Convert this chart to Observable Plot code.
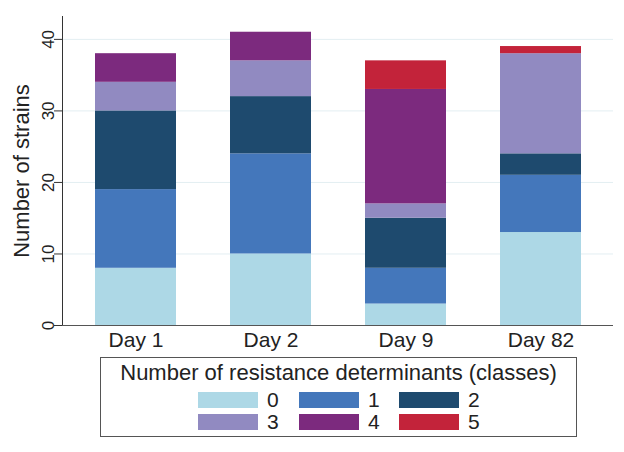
<!DOCTYPE html>
<html><head><meta charset="utf-8">
<script src="https://cdn.jsdelivr.net/npm/d3@7"></script>
<script src="https://cdn.jsdelivr.net/npm/@observablehq/plot@0.6"></script>
<style>
body{margin:0;background:#fff;font-family:"Liberation Sans",Arial,sans-serif;}
#wrap{position:relative;width:624px;height:452px;overflow:hidden;}
#legend{position:absolute;left:100px;top:357px;width:477px;height:80px;border:1px solid #555;box-sizing:border-box;background:#fff;}
#legend .title{position:absolute;left:0;right:0;top:2px;text-align:center;font-size:22px;color:#222;line-height:26px;}
#legend .sw{position:absolute;width:60px;height:16px;}
#legend .lab{position:absolute;font-size:21px;color:#222;line-height:16px;}
</style></head>
<body><div id="wrap"><div id="chart"></div><div id="legend"></div></div>
<script>
const days = ["Day 1","Day 2","Day 9","Day 82"];
const classes = ["0","1","2","3","4","5"];
const colors = ["#add8e6","#4477bb","#1e4a6e","#918ac1","#7c2a7e","#c3233a"];
const counts0 = [8,10,3,13];
const counts1 = [11,14,5,8];
const counts2 = [11,8,7,3];
const counts3 = [4,5,2,14];
const counts4 = [4,4,16,0];
const counts5 = [0,0,4,1];
const yTicks = [0,10,20,30,40];
const series = [counts0,counts1,counts2,counts3,counts4,counts5];

const rows = [];
series.forEach((vals, ci) => vals.forEach((v, di) => rows.push({day: days[di], cls: classes[ci], n: v})));

const plot = Plot.plot({
  width: 624, height: 354,
  marginLeft: 62, marginRight: 11, marginTop: 16, marginBottom: 29,
  style: {fontFamily: '"Liberation Sans", Arial, sans-serif', color: "#222", background: "#fff"},
  x: {domain: days, paddingInner: 0.4, paddingOuter: 0.24, align: 0.5},
  y: {domain: [0, 43.2]},
  color: {domain: classes, range: colors},
  marks: [
    Plot.gridY(yTicks.slice(1), {stroke: "#e3eef2", strokeOpacity: 1}),
    Plot.barY(rows, Plot.stackY({x: "day", y: "n", fill: "cls", order: classes})),
    Plot.axisX({tickSize: 0, fontSize: 21, tickPadding: 7, label: null}),
    Plot.axisY(yTicks, {tickSize: 8, fontSize: 17, tickRotate: -90, tickPadding: 1, label: null, stroke: "#333"}),
    Plot.text(["Number of strains"], {frameAnchor: "left", textAnchor: "middle", rotate: -90, dx: -34, lineAnchor: "bottom", fontSize: 22, fill: "#222"}),
    Plot.frame({anchor: "left", stroke: "#333"}),
    Plot.ruleY([0], {stroke: "#555"})
  ]
});
document.getElementById("chart").appendChild(plot);
const lg = document.getElementById("legend");
const t = document.createElement("div"); t.className = "title"; t.textContent = "Number of resistance determinants (classes)"; lg.appendChild(t);
const colX = [97, 198, 298];
const rowY = [34, 56];
classes.forEach((c, i) => {
  const s = document.createElement("div"); s.className = "sw";
  s.style.left = colX[i % 3] + "px"; s.style.top = rowY[Math.floor(i / 3)] + "px"; s.style.background = colors[i];
  lg.appendChild(s);
  const l = document.createElement("div"); l.className = "lab"; l.textContent = c;
  l.style.left = (colX[i % 3] + 69) + "px"; l.style.top = rowY[Math.floor(i / 3)] + "px";
  lg.appendChild(l);
});
</script></body></html>
